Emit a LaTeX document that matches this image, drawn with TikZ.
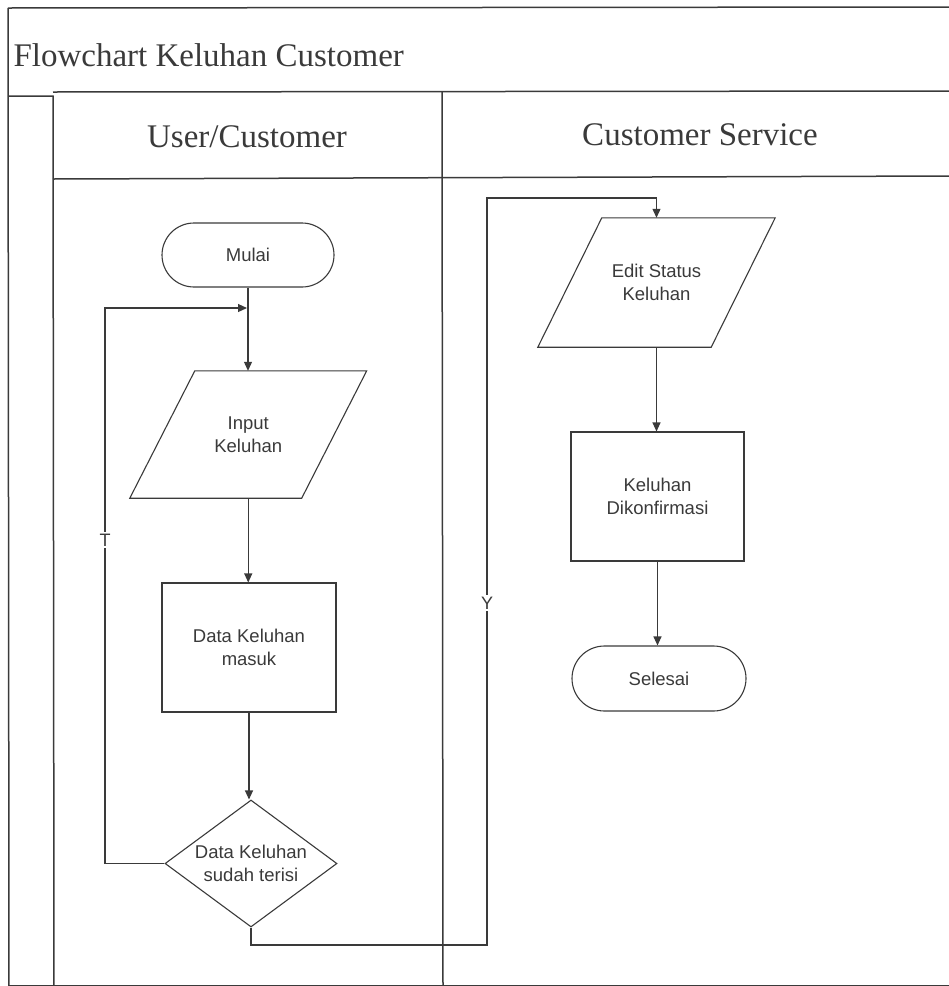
\documentclass[tikz,border=0pt]{standalone}
\usepackage{fontspec}
\setmainfont{Liberation Serif}
\newfontfamily\arialfont{Liberation Sans}
\usetikzlibrary{arrows.meta,shapes.misc,shapes.geometric}
\definecolor{ink}{HTML}{3A3A3A}
\begin{document}
\begin{tikzpicture}[x=1pt,y=-1pt,
  frameline/.style={draw=ink, line width=1.5pt},
  flow/.style={draw=ink, line width=1.1pt},
  arr/.style={flow, -{Triangle[length=9pt,width=8pt]}},
  nodetext/.style={font=\arialfont\fontsize{18.5}{23}\selectfont, text=ink, align=center},
  term/.style={flow, nodetext, rounded rectangle, inner sep=0pt},
  procbox/.style={flow, nodetext, rectangle, inner sep=0pt},
  parabox/.style={nodetext, rectangle, inner sep=0pt},
  decbox/.style={flow, diamond, inner sep=0pt},
  headtext/.style={font=\fontsize{33}{38}\selectfont, text=ink},
  flaglabel/.style={font=\arialfont\fontsize{18}{20}\selectfont, text=ink, fill=white, inner sep=2pt}
]
\useasboundingbox (0,0) rectangle (949,986);

% frame
\draw[frameline] (8,8) -- (949,7);
\draw[frameline] (8,8) -- (9,986);
\draw[frameline] (53,92) -- (949,91);
\draw[frameline] (8,96) -- (53,96) -- (54,986);
\draw[frameline] (53,179) -- (949,176);
\draw[frameline] (442,92) -- (443,986);
\draw[draw=ink, line width=1pt] (9,985) -- (949,985);

% titles
\node[headtext, anchor=west] (title) at (10,55) {Flowchart Keluhan Customer};
\node[headtext] (lane1) at (247,137) {User/Customer};
\node[headtext] (lane2) at (700,135) {Customer Service};

% flow nodes
\node[term, minimum width=172pt, minimum height=64pt] (mulai) at (248,255) {Mulai};
\node[parabox, minimum width=171.5pt, minimum height=127pt] (input) at (248.25,434.5) {Input\\Keluhan};
\draw[flow] ([xshift=32.5pt]input.north west) -- ([xshift=32.5pt]input.north east)
  -- ([xshift=-32.5pt]input.south east) -- ([xshift=-32.5pt]input.south west) -- cycle;
\node[procbox, minimum width=174pt, minimum height=129pt] (masuk) at (249,647.5) {Data Keluhan\\masuk};
\node[decbox, minimum width=172pt, minimum height=127pt] (dec) at (251,863.5) {};
\node[nodetext] (dectext) at (dec) {Data Keluhan\\sudah terisi};

\node[parabox, minimum width=173pt, minimum height=129pt] (edit) at (656.5,282.5) {Edit Status\\Keluhan};
\draw[flow] ([xshift=32pt]edit.north west) -- ([xshift=32pt]edit.north east)
  -- ([xshift=-32pt]edit.south east) -- ([xshift=-32pt]edit.south west) -- cycle;
\node[procbox, minimum width=173pt, minimum height=129pt] (konf) at (657.5,496.5) {Keluhan\\Dikonfirmasi};
\node[term, minimum width=174pt, minimum height=65pt] (selesai) at (659,678.5) {Selesai};

% connector helpers
\coordinate (tx) at (105,308);
\coordinate (loopin) at (247,308);
\coordinate (yb) at (487,945);
\coordinate (yt) at (487,198);

% connectors
\draw[arr] (mulai.south) -- (mulai.south |- input.north);
\draw[arr] (input.south) -- (input.south |- masuk.north);
\draw[arr] (masuk.south) -- (masuk.south |- dec.north);
\draw[arr] (dec.west) -| (tx) -- (loopin);
\draw[arr] (dec.south) |- (yb) -- (yt) -| (edit.north);
\draw[arr] (edit.south) -- (edit.south |- konf.north);
\draw[arr] (konf.south) -- (konf.south |- selesai.north);

% branch labels
\node[flaglabel] (tlabel) at (105,540) {T};
\node[flaglabel] (ylabel) at (487,603) {Y};
\end{tikzpicture}
\end{document}
